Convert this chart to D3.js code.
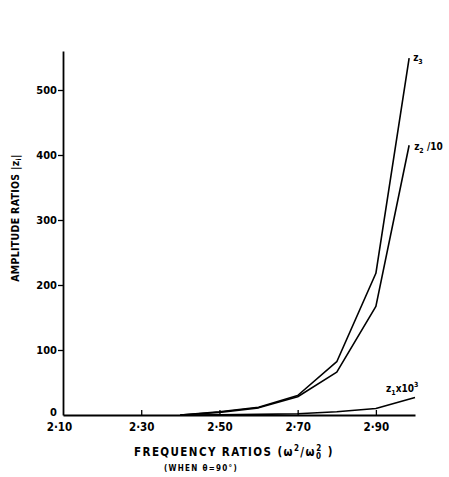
<!DOCTYPE html>
<html>
<head>
<meta charset="utf-8">
<script src="https://cdn.jsdelivr.net/npm/d3@7"></script>
<style>
  body { margin: 0; background: #fff; }
  text { font-family: "DejaVu Sans Condensed", "Liberation Sans", sans-serif; font-weight: bold; fill: #000; }
</style>
</head>
<body>
<svg id="chart" width="449" height="477"></svg>
<script>
// frequency ratios (w^2/w0^2) at which amplitudes were read
var freqs = [2.4, 2.5, 2.6, 2.7, 2.8, 2.9, 2.985];
var z3 = [0, 5, 12, 30, 82, 218, 549];
var z2Over10 = [0, 4, 11, 28, 66, 167, 415];
var z1Freqs = [2.4, 2.5, 2.6, 2.7, 2.8, 2.9, 3.0];
var z1Times1000 = [0, 0.5, 1, 2, 5, 10, 27];

var xTicks = [2.1, 2.3, 2.5, 2.7, 2.9];
var xTickLabels = ["2·10", "2·30", "2·50", "2·70", "2·90"];
var yTicks = [0, 100, 200, 300, 400, 500];

var svg = d3.select("#chart");

var x = d3.scaleLinear().domain([2.1, 3.0]).range([63, 415]);
var y = d3.scaleLinear().domain([0, 560]).range([415, 51]);

// axes
svg.append("g")
    .attr("transform", "translate(0," + y(0) + ")")
    .call(d3.axisBottom(x).tickValues(xTicks).tickSizeInner(-5).tickSizeOuter(0)
        .tickFormat(function (d, i) { return xTickLabels[i]; }))
    .call(function (g) {
        g.select(".domain").attr("stroke-width", 1.8);
        g.selectAll(".tick line").attr("stroke-width", 1.3);
        g.selectAll(".tick text").attr("y", 8).attr("dy", "0.71em").style("font-size", "11.5px");
        g.selectAll(".tick").filter(function (d) { return d === 2.1; })
            .call(function (t) { t.select("line").remove(); t.select("text").attr("x", -4); });
    });

svg.append("g")
    .attr("transform", "translate(" + x(2.1) + ",0)")
    .call(d3.axisLeft(y).tickValues(yTicks).tickSize(5).tickSizeOuter(0).tickFormat(d3.format("d")))
    .call(function (g) {
        g.select(".domain").attr("stroke-width", 1.8);
        g.selectAll(".tick line").attr("stroke-width", 1.3);
        g.selectAll(".tick text").attr("x", -6).style("font-size", "11px");
        g.selectAll(".tick").filter(function (d) { return d === 0; })
            .call(function (t) { t.select("line").remove(); t.select("text").attr("y", -3); });
    });

// curves
var line = d3.line()
    .x(function (d) { return x(d[0]); })
    .y(function (d) { return y(d[1]); });

function drawCurve(xs, ys) {
    svg.append("path")
        .datum(xs.map(function (v, i) { return [v, ys[i]]; }))
        .attr("d", line)
        .attr("fill", "none")
        .attr("stroke", "#000")
        .attr("stroke-width", 1.6)
        .attr("stroke-linejoin", "round");
}

drawCurve(freqs, z3);
drawCurve(freqs, z2Over10);
drawCurve(z1Freqs, z1Times1000);

// curve labels
var z3Lab = svg.append("text").attr("x", x(2.985) + 4).attr("y", y(549) + 3).style("font-size", "10px");
z3Lab.append("tspan").text("z");
z3Lab.append("tspan").attr("dy", 3).style("font-size", "7px").text("3");

var z2Lab = svg.append("text").attr("x", x(2.985) + 5).attr("y", y(415) + 5).style("font-size", "10px");
z2Lab.append("tspan").text("z");
z2Lab.append("tspan").attr("dy", 3).style("font-size", "7px").text("2");
z2Lab.append("tspan").attr("dy", -3).text(" /10");

var z1Lab = svg.append("text").attr("x", 386).attr("y", 392).style("font-size", "10px");
z1Lab.append("tspan").text("z");
z1Lab.append("tspan").attr("dy", 3).style("font-size", "7px").text("1");
z1Lab.append("tspan").attr("dy", -3).text("x10");
z1Lab.append("tspan").attr("dy", -5).style("font-size", "7px").text("3");

// axis titles
var xt = svg.append("text").attr("x", 234).attr("y", 456).attr("text-anchor", "middle")
    .style("font-size", "11.5px").style("letter-spacing", "1.4px");
xt.append("tspan").text("FREQUENCY  RATIOS  (ω");
xt.append("tspan").attr("dy", -5).style("font-size", "8px").text("2");
xt.append("tspan").attr("dy", 5).text("/ω");
xt.append("tspan").attr("dy", 3).style("font-size", "8px").text("0");
xt.append("tspan").attr("dy", -8).attr("dx", -6).style("font-size", "8px").text("2");
xt.append("tspan").attr("dy", 5).text("  )");

svg.append("text").attr("x", 201).attr("y", 471).attr("text-anchor", "middle")
    .style("font-size", "8px").style("letter-spacing", "1.3px").text("(WHEN θ=90°)");

svg.append("text")
    .attr("transform", "translate(19,218) rotate(-90)")
    .attr("text-anchor", "middle")
    .style("font-size", "10.5px").style("letter-spacing", "0.3px")
    .text("AMPLITUDE  RATIOS  |z")
    .append("tspan").attr("dy", 2).style("font-size", "7px").text("i")
    .select(function () { return this.parentNode; })
    .append("tspan").attr("dy", -2).text("|");
</script>
</body>
</html>
